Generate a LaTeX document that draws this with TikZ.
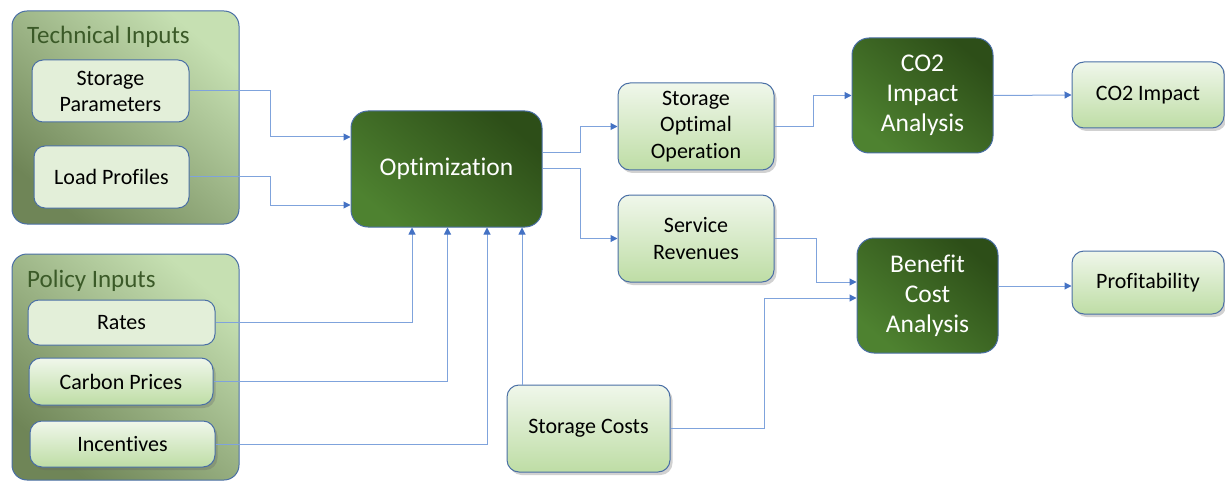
\documentclass[tikz,border=0pt]{standalone}
\usepackage{fontspec}
\setmainfont{Carlito}[Ligatures=NoCommon]
\usetikzlibrary{arrows.meta,shadows,calc}

\definecolor{edgeblue}{HTML}{4A6FA5}
\definecolor{linkblue}{HTML}{7FA3DC}
\definecolor{tipblue}{HTML}{4472C4}
\definecolor{grplight}{HTML}{C6E0B2}
\definecolor{grpmid}{HTML}{ABC791}
\definecolor{grpdark}{HTML}{6F8557}
\definecolor{grptext}{HTML}{3B5A28}
\definecolor{flatfill}{HTML}{E3EFD9}
\definecolor{gradtop}{HTML}{F0F7EB}
\definecolor{gradbot}{HTML}{BEDDA5}
\definecolor{darktop}{HTML}{2D4E18}
\definecolor{darkmid}{HTML}{3F6C25}
\definecolor{darkbot}{HTML}{4E8230}

\tikzset{
  grp/.style={draw=edgeblue, line width=1pt, rounded corners=15pt,
    top color=grplight, middle color=grpmid, bottom color=grpdark, shading angle=-40},
  grptitle/.style={text=grptext, font=\fontsize{25}{29}\selectfont, anchor=west, inner sep=0pt},
  flatbox/.style={draw=edgeblue, line width=1pt, rounded corners=11pt, fill=flatfill,
    align=center, font=\fontsize{22}{26}\selectfont, inner sep=0pt},
  gradbox/.style={draw=edgeblue, line width=1pt, rounded corners=12pt,
    top color=gradtop, bottom color=gradbot,
    drop shadow={shadow xshift=2.5pt, shadow yshift=-3pt, opacity=0.3, fill=black!60},
    align=center, font=\fontsize{22}{26.5}\selectfont, inner sep=0pt},
  darkbox/.style={draw=edgeblue, line width=1pt, rounded corners=17pt,
    top color=darktop, middle color=darkmid, bottom color=darkbot, shading angle=-40,
    text=white, align=center, font=\fontsize{25.5}{30}\selectfont, inner sep=0pt},
  conn/.style={draw=linkblue, line width=1pt,
    -{Triangle[length=7pt,width=7pt,color=tipblue,fill=tipblue]}},
}

\begin{document}
\begin{tikzpicture}[x=1pt,y=-1pt]
\useasboundingbox (0,0) rectangle (1225,481);

% input groups
\node[grp, minimum width=227pt, minimum height=213pt] (tech) at (125.5,117.5) {};
\node[grptitle] (techtitle) at (27,37) {Technical Inputs};
\node[grp, minimum width=227pt, minimum height=226pt] (pol) at (125.5,367) {};
\node[grptitle] (poltitle) at (27,281) {Policy Inputs};

% technical inputs
\node[flatbox, minimum width=157pt, minimum height=62pt] (sp) at (110.5,91) {Storage\\Parameters};
\node[flatbox, minimum width=155pt, minimum height=62pt] (lp) at (111.5,177) {Load Profiles};

% policy inputs
\node[flatbox, minimum width=187pt, minimum height=45pt] (rates) at (121.5,322.5) {Rates};
\node[gradbox, minimum width=184pt, minimum height=47pt] (carbon) at (121,381.5) {Carbon Prices};
\node[gradbox, minimum width=185pt, minimum height=46pt] (incent) at (122.5,444) {Incentives};

% core process
\node[darkbox, minimum width=191pt, minimum height=116pt] (opt) at (446.5,169) {Optimization};
\node[gradbox, minimum width=163pt, minimum height=87pt] (sc) at (588.5,428.5) {Storage Costs};

% intermediate results
\node[gradbox, minimum width=156pt, minimum height=87pt] (soo) at (696,126.5) {Storage\\Optimal\\Operation};
\node[gradbox, minimum width=156pt, minimum height=87pt] (sr) at (696,238.5) {Service\\Revenues};

% analyses
\node[darkbox, minimum width=141pt, minimum height=115pt] (co2a) at (922.5,95.5) {CO2\\Impact\\Analysis};
\node[darkbox, minimum width=141pt, minimum height=115pt] (bca) at (927.5,295.5) {Benefit\\Cost\\Analysis};

% outcomes
\node[gradbox, minimum width=152pt, minimum height=66pt] (co2) at (1148,95) {CO2 Impact};
\node[gradbox, minimum width=152pt, minimum height=63pt] (prof) at (1148,282.5) {Profitability};

% connectors into the optimization
\draw[conn] (sp.east) -- ++(81,0) |- ([yshift=32pt]opt.west);
\draw[conn] (lp.east) -- ++(81,0) |- ([yshift=-36pt]opt.west);
\draw[conn] (rates.east) -| ([xshift=-34.5pt]opt.south);
\draw[conn] (carbon.east) -| ([xshift=1pt]opt.south);
\draw[conn] (incent.east) -| ([xshift=40.5pt]opt.south);
\draw[conn] ([xshift=-66.5pt]sc.north) -- ([xshift=75.5pt]opt.south);

% connectors out of the optimization
\draw[conn] ([yshift=16pt]opt.east) -- ++(38,0) |- (soo.west);
\draw[conn] (opt.east) -- ++(38,0) |- (sr.west);

% connectors into the analyses and outcomes
\draw[conn] (soo.east) -- ++(39,0) |- (co2a.west);
\draw[conn] (co2a.east) -- (co2.west);
\draw[conn] (sr.east) -- ++(42,0) |- ([yshift=13.5pt]bca.west);
\draw[conn] (sc.east) -- ++(94,0) |- ([yshift=-2.5pt]bca.west);
\draw[conn] ([yshift=9.5pt]bca.east) -- ([yshift=-3.5pt]prof.west);
\end{tikzpicture}
\end{document}
